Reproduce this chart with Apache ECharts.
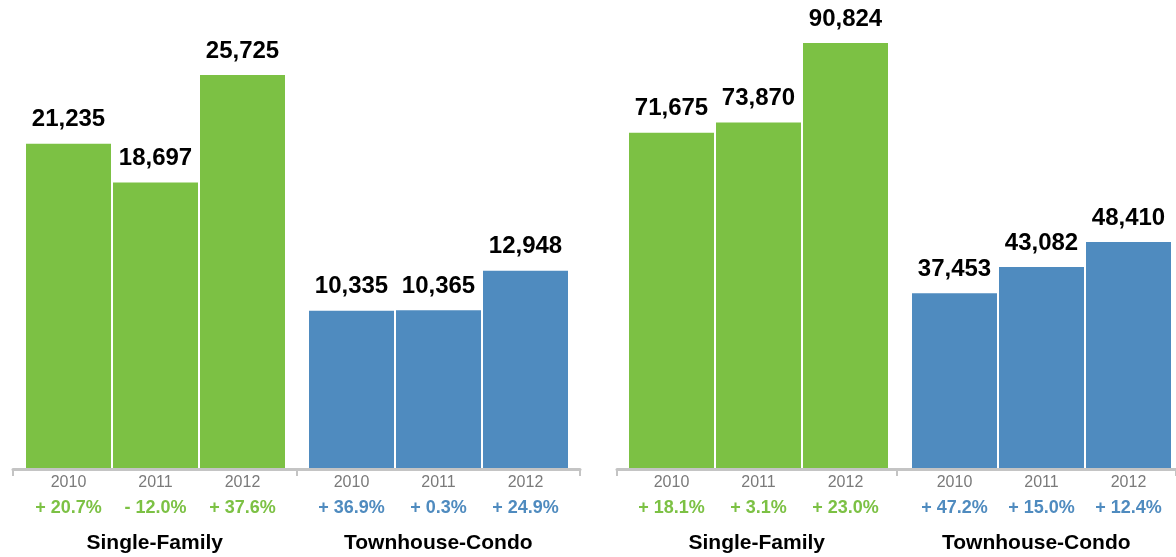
<!DOCTYPE html>
<html>
<head>
<meta charset="utf-8">
<style>
  html, body { margin: 0; padding: 0; background: #ffffff; }
  #chart { width: 1176px; height: 557px; }
</style>
<script src="https://cdn.jsdelivr.net/npm/echarts@6/dist/echarts.min.js"></script>
</head>
<body>
<div id="chart"></div>
<script>
// Categories
const years = ['2010', '2011', '2012'];
const groups = ['Single-Family', 'Townhouse-Condo'];

// Left panel values
const leftSingleFamily = [21235, 18697, 25725];
const leftTownhouse = [10335, 10365, 12948];
const leftSingleFamilyChange = ['+ 20.7%', '- 12.0%', '+ 37.6%'];
const leftTownhouseChange = ['+ 36.9%', '+ 0.3%', '+ 24.9%'];

// Right panel values
const rightSingleFamily = [71675, 73870, 90824];
const rightTownhouse = [37453, 43082, 48410];
const rightSingleFamilyChange = ['+ 18.1%', '+ 3.1%', '+ 23.0%'];
const rightTownhouseChange = ['+ 47.2%', '+ 15.0%', '+ 12.4%'];

const GREEN = '#7cc144';
const BLUE = '#4f8bbf';
const AXIS_GREY = '#c4c4c4';
const FONT = 'Helvetica, Arial, "Liberation Sans", sans-serif';

const TOP = 30;
const BOTTOM = 88;

// one grid per bar group, plus one bracket grid per panel
const barGroups = [
  { left: 25,  values: leftSingleFamily,  change: leftSingleFamilyChange,  color: GREEN, max: 28660 },
  { left: 308, values: leftTownhouse,     change: leftTownhouseChange,     color: BLUE,  max: 28660 },
  { left: 628, values: rightSingleFamily, change: rightSingleFamilyChange, color: GREEN, max: 93600 },
  { left: 911, values: rightTownhouse,    change: rightTownhouseChange,    color: BLUE,  max: 93600 }
];
const brackets = [{ left: 13 }, { left: 617 }];

const grid = [];
const xAxis = [];
const yAxis = [];
const series = [];

barGroups.forEach((g, i) => {
  grid.push({ left: g.left, width: 261, top: TOP, bottom: BOTTOM, containLabel: false });
  xAxis.push({
    type: 'category',
    gridIndex: i,
    data: years,
    axisLine: { show: false },
    axisTick: { show: false },
    axisLabel: {
      interval: 0,
      margin: 1,
      fontFamily: FONT,
      formatter: (val, idx) => '{y|' + val + '}\n{p|' + g.change[idx] + '}',
      rich: {
        y: { fontSize: 16, color: '#7a7a7a', lineHeight: 25, fontFamily: FONT },
        p: { fontSize: 18, fontWeight: 'bold', color: g.color, lineHeight: 26, fontFamily: FONT }
      }
    }
  });
  yAxis.push({ type: 'value', gridIndex: i, min: 0, max: g.max, show: false });
  series.push({
    type: 'bar',
    xAxisIndex: i,
    yAxisIndex: i,
    data: g.values,
    barWidth: 85,
    itemStyle: { color: g.color },
    label: {
      show: true,
      position: 'top',
      distance: 12,
      fontFamily: FONT,
      fontSize: 24,
      fontWeight: 'bold',
      color: '#000',
      formatter: p => p.value.toLocaleString('en-US')
    },
    silent: true,
    animation: false
  });
});

brackets.forEach((b, j) => {
  const idx = barGroups.length + j;
  grid.push({ left: b.left, width: 567, top: TOP, bottom: BOTTOM, containLabel: false });
  xAxis.push({
    type: 'category',
    gridIndex: idx,
    data: groups,
    boundaryGap: true,
    axisLine: { show: true, lineStyle: { color: AXIS_GREY, width: 3 } },
    axisTick: { show: true, length: 7, lineStyle: { color: AXIS_GREY, width: 2 } },
    axisLabel: {
      interval: 0,
      margin: 64,
      fontFamily: FONT,
      fontSize: 21,
      fontWeight: 'bold',
      color: '#000'
    },
    z: 5
  });
  yAxis.push({ type: 'value', gridIndex: idx, min: 0, max: 1, show: false });
});

const chart = echarts.init(document.getElementById('chart'));
chart.setOption({
  backgroundColor: '#ffffff',
  animation: false,
  grid,
  xAxis,
  yAxis,
  series
});
</script>
</body>
</html>
